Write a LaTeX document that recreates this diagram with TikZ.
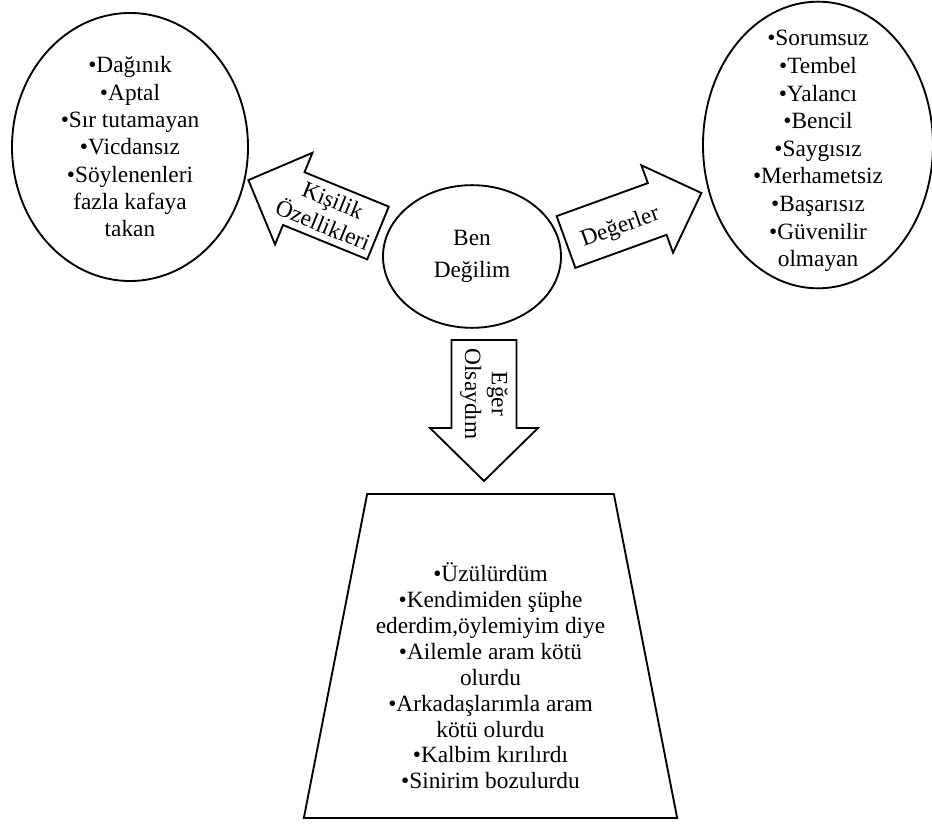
\documentclass[tikz,border=0pt]{standalone}
\usepackage{fontspec}
\setmainfont{Liberation Serif}
\usetikzlibrary{shapes.geometric}

\begin{document}
\begin{tikzpicture}[x=0.75pt, y=-0.75pt, line width=1.4pt,
        set/.style = {ellipse, draw, inner sep=0pt},
        liste/.style = {align=center, inner sep=0pt,
            font=\fontsize{17.5}{20.5}\selectfont},
        oktext/.style = {align=center, inner sep=0pt,
            font=\fontsize{17.5}{20}\selectfont}]

    \useasboundingbox (0,0) rectangle (932,830);

    % Ben Degilim
    \node[set, minimum width=133.5pt, minimum height=107pt] (ben) at (472,256.5) {};
    \node[liste, font=\fontsize{17.5}{24.5}\selectfont] (benyazi) at (ben.center) {Ben\\Değilim};

    % Kisilik ozellikleri
    \node[set, minimum width=177pt, minimum height=201pt] (kisilik) at (130,147) {};
    \node[liste] (kisilikyazi) at (kisilik.center)
        {•Dağınık\\•Aptal\\•Sır tutamayan\\•Vicdansız\\•Söylenenleri\\fazla kafaya\\takan};

    % Degerler
    \node[set, minimum width=172.5pt, minimum height=215pt] (deger) at (818,145) {};
    \node[liste, font=\fontsize{17.5}{20.7}\selectfont] (degeryazi) at ([yshift=-4.5pt]deger.center)
        {•Sorumsuz\\•Tembel\\•Yalancı\\•Bencil\\•Saygısız\\•Merhametsiz\\•Başarısız\\•Güvenilir\\olmayan};

    % Eger olsaydim
    \node[trapezium, draw, trapezium left angle=75.6, trapezium right angle=75.6,
        trapezium stretches=true, minimum width=280pt, minimum height=243pt] (sonuc) at (490.5,656) {};
    \node[liste, font=\fontsize{17.5}{19.4}\selectfont] (sonucyazi) at ([yshift=-15pt]sonuc.center)
        {•Üzülürdüm\\•Kendimiden şüphe\\ederdim,öylemiyim diye\\•Ailemle aram kötü\\olurdu\\•Arkadaşlarımla aram\\kötü olurdu\\•Kalbim kırılırdı\\•Sinirim bozulurdu};

    % Arrow to Kisilik
    \begin{scope}[shift={(378,233)}, rotate=157.8]
        \draw[line join=miter] (0,-28.5) -- (91,-28.5) -- (91,-49.5) -- (140,0)
            -- (91,49.5) -- (91,28.5) -- (0,28.5) -- cycle;
        \node[oktext, rotate=-22.2] (okkisilik) at (54,0) {Kişilik\\Özellikleri};
    \end{scope}

    % Arrow to Degerler
    \begin{scope}[shift={(566,242)}, rotate=19.9]
        \draw[line join=miter] (0,-27.5) -- (97,-27.5) -- (97,-46.5) -- (144,0)
            -- (97,46.5) -- (97,27.5) -- (0,27.5) -- cycle;
        \node[oktext, rotate=19.9] (okdeger) at (56,5) {Değerler};
    \end{scope}

    % Arrow to Eger olsaydim
    \begin{scope}[shift={(484,340)}, rotate=-90]
        \draw[line join=miter] (0,-32.5) -- (88,-32.5) -- (88,-54) -- (141,0)
            -- (88,54) -- (88,32.5) -- (0,32.5) -- cycle;
        \node[oktext, rotate=-90] (oksonuc) at (54,0) {Eğer\\Olsaydım};
    \end{scope}

\end{tikzpicture}
\end{document}
